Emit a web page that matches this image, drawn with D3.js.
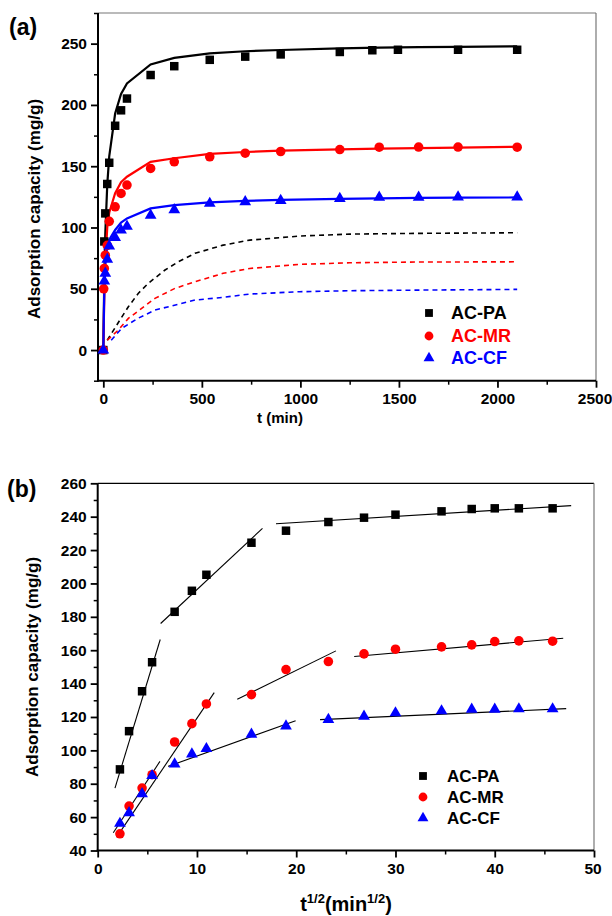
<!DOCTYPE html>
<html><head><meta charset="utf-8">
<script src="https://cdn.jsdelivr.net/npm/d3@7"></script>
<style>
body{margin:0;background:#fff}
text{font-family:Arial,"Liberation Sans",sans-serif;font-weight:bold}
</style>
</head><body>
<svg id="c" width="612" height="916"></svg>
<script>
// ---------- Panel (a): adsorption kinetics ----------
const seriesNames = ["AC-PA","AC-MR","AC-CF"];
const seriesColors = ["#000000","#ff0000","#0000ff"];
const tA_PA = [0,5,10,20,30,60,90,120,240,360,540,720,900,1200,1365,1495,1800,2100];
const tA_MR = [0,2,5,10,20,30,60,90,120,240,360,540,720,900,1200,1400,1600,1800,2100];
const tA = [0,5,10,20,30,60,90,120,240,360,540,720,900,1200,1400,1600,1800,2100];
const qA_PA = [0,88.6,111.5,135.5,152.8,183,195.6,205.2,224.4,231.6,236.8,239.4,241.2,243.2,244.6,245,245,245];
const qA_MR = [0,50,66.6,77.4,85.4,105,116.9,127.8,134.6,148.2,153.6,157.7,160.6,162,163.6,165.5,165.6,165.6,165.5];
const qA_CF = [0,56.2,62.6,74,84.8,91.8,97.8,101,110,114.4,119.6,121,122,123.6,124.6,124.6,124.8,124.8];
// solid fitted curves (a)
const fitA_PA = [0,60,95,135,158,193,209,217.5,233,238.4,242,243.8,244.8,246.2,246.7,247.1,247.4,247.8];
const fitA_MR = [0,45,72,100,112,128,137,141.4,153.6,156.5,160,161.6,162.7,163.7,164.3,164.8,165.2,165.8];
const fitA_CF = [0,50,70,85,90,98,104,107.4,115.6,118.3,120.5,121.7,122.5,123.4,123.8,124.1,124.3,124.5];
// dashed curves (a)
const dashT_PA = [20,84,127,177,228,313,380,465,608,743,996,1250,1588,2100];
const dashQ_PA = [8,24.5,35.3,46.2,54.4,65.3,72,78.9,85.6,89.7,93,94.6,95.2,95.7];
const dashT_MR = [20,76,127,262,363,465,608,743,996,1250,1588,2100];
const dashQ_MR = [8,16.3,25.8,42.2,50.3,55.7,62.6,66.6,69.9,71.2,71.8,72];
const dashT_CF = [40,93,177,262,465,608,743,996,1250,1588,2100];
const dashQ_CF = [8,17.7,26,32.6,40.8,43,45.7,47.6,48.4,48.9,49.5];
const xTicksA = [0,500,1000,1500,2000,2500];
const yTicksA = [0,50,100,150,200,250];

// ---------- Panel (b): intraparticle diffusion ----------
const sqrtT = [2.24,3.16,4.47,5.48,7.75,9.49,10.95,15.49,18.97,23.24,26.83,30,34.64,37.68,40,42.43,45.83];
const qB_PA = [88.6,111.5,135.4,152.8,183,195.6,205.2,224.4,231.6,236.8,239.4,241.2,243.2,244.6,245,245,245];
const qB_MR = [50,66.6,77.4,85.4,105,116,127.8,133.4,148.4,153.2,157.8,160.6,162,163.2,165.2,165.6,165.4];
const qB_CF = [56.2,62.6,74,84.8,91.8,97.8,101,109.6,114.6,118.4,120.4,122.4,123.6,124.6,124.6,124.8,124.8];
// linear segments (x1,q1,x2,q2)
const segB_PA = [[1.74,77.4,6.3,166.4],[6.34,176,16.6,233],[17.96,235.8,47.7,246.6]];
const segB_MR = [[1.91,48,11.74,134.6],[14.06,130.6,24,159.6],[25.84,156.2,46.9,167.2]];
const segB_CF = [[1.57,50.6,6.27,93.4],[7.1,90.4,19.94,117.8],[22.4,118.4,47.2,125]];
const xTicksB = [0,10,20,30,40,50];
const yTicksB = [40,60,80,100,120,140,160,180,200,220,240,260];

const svg = d3.select("#c");
const symTypes = [d3.symbolSquare, d3.symbolCircle, d3.symbolTriangle];
const symSizes = [72, 72, 60];

function drawFrame(x, y, opts){
  const [x0,x1] = x.range(), [y0,y1] = y.range();
  const g = svg.append("g");
  g.append("line").attr("x1",x0).attr("x2",x1).attr("y1",y1).attr("y2",y1)
    .attr("stroke",opts.topColor).attr("stroke-width",1.2);
  g.append("line").attr("x1",x1).attr("x2",x1).attr("y1",y1).attr("y2",y0)
    .attr("stroke","#777").attr("stroke-width",1.2);
  const gxm = g.append("g").attr("transform",`translate(0,${y0})`)
    .call(d3.axisBottom(x).tickValues(opts.xMinor).tickSize(4).tickFormat("").tickSizeOuter(0));
  const gym = g.append("g").attr("transform",`translate(${x0},0)`)
    .call(d3.axisLeft(y).tickValues(opts.yMinor).tickSize(4).tickFormat("").tickSizeOuter(0));
  [gxm,gym].forEach(a=>{a.select(".domain").remove(); a.selectAll("line").attr("stroke-width",1.5);});
  const gx = g.append("g").attr("transform",`translate(0,${y0})`)
    .call(d3.axisBottom(x).tickValues(opts.xTicks).tickFormat(d3.format("d")).tickSize(7).tickPadding(5).tickSizeOuter(0));
  const gy = g.append("g").attr("transform",`translate(${x0},0)`)
    .call(d3.axisLeft(y).tickValues(opts.yTicks).tickFormat(d3.format("d")).tickSize(7).tickPadding(4).tickSizeOuter(0));
  [gx,gy].forEach(a=>{
    a.selectAll(".tick line").attr("stroke-width",1.8);
    a.selectAll("text").attr("font-size",15.5).attr("font-family","Arial, 'Liberation Sans', sans-serif")
      .attr("font-weight","bold").attr("fill","#000");
  });
  // keep the last x label inside the page
  gx.selectAll(".tick text").filter((d,i,n)=>i===n.length-1 && x(d)>590).attr("dx",-1.5);
  gy.select(".domain").attr("stroke-width",2).attr("d",`M0,${y0+1}V${y1}`);
  gx.select(".domain").attr("stroke-width",2).attr("d",`M${x0-1},0H${x1}`);
}

function drawLegend(x0, xt, ys, colored, fs){
  seriesNames.forEach((n,i)=>{
    svg.append("path").attr("d",d3.symbol(symTypes[i], symSizes[i]*0.85)())
      .attr("transform",`translate(${x0},${ys[i]})`).attr("fill",seriesColors[i]);
    svg.append("text").attr("x",xt).attr("y",ys[i]).attr("dy","0.36em")
      .attr("font-size",fs).attr("fill",colored?seriesColors[i]:"#000").text(n);
  });
}

// ===== Panel (a) =====
{
  const x = d3.scaleLinear().domain([-27,2500]).range([98,596]);
  const y = d3.scaleLinear().domain([-25,275]).range([380.7,13]);
  drawFrame(x,y,{xTicks:xTicksA,yTicks:yTicksA,
    xMinor:d3.range(250,2500,500),yMinor:[-25,25,75,125,175,225,275],topColor:"#777"});
  const line = d3.line().x(d=>x(d[0])).y(d=>y(d[1]));
  const dashT=[dashT_PA,dashT_MR,dashT_CF], dashQ=[dashQ_PA,dashQ_MR,dashQ_CF];
  dashT.forEach((ts,i)=>{
    svg.append("path").attr("d",line(ts.map((t,j)=>[t,dashQ[i][j]])))
      .attr("fill","none").attr("stroke",seriesColors[i]).attr("stroke-width",1.6)
      .attr("stroke-dasharray","5,4");
  });
  const fits=[fitA_PA,fitA_MR,fitA_CF], qs=[qA_PA,qA_MR,qA_CF], ts=[tA_PA,tA_MR,tA];
  fits.forEach((f,i)=>{
    svg.append("path").attr("d",line(tA.map((t,j)=>[t,f[j]])))
      .attr("fill","none").attr("stroke",seriesColors[i]).attr("stroke-width",2.2);
  });
  qs.forEach((q,i)=>{
    svg.append("g").selectAll("path").data(q.map((v,j)=>[ts[i][j],v])).join("path")
      .attr("d",d3.symbol(symTypes[i],symSizes[i])())
      .attr("transform",d=>`translate(${x(d[0])},${y(d[1])})`).attr("fill",seriesColors[i]);
  });
  svg.append("text").attr("x",280).attr("y",423).attr("text-anchor","middle").attr("font-size",15).text("t (min)");
  svg.append("text").attr("transform","translate(40,209) rotate(-90)").attr("text-anchor","middle")
    .attr("font-size",17).text("Adsorption capacity (mg/g)");
  svg.append("text").attr("x",9).attr("y",35).attr("font-size",23).text("(a)");
  drawLegend(429,451,[313,336,358],true,18);
}

// ===== Panel (b) =====
{
  const x = d3.scaleLinear().domain([0,50]).range([97.7,594]);
  const y = d3.scaleLinear().domain([40,260]).range([850.5,483.3]);
  drawFrame(x,y,{xTicks:xTicksB,yTicks:yTicksB,
    xMinor:[5,15,25,35,45],yMinor:d3.range(50,260,20),topColor:"#000"});
  const segs=[segB_PA,segB_MR,segB_CF];
  segs.forEach(ss=>ss.forEach(s=>{
    svg.append("line").attr("x1",x(s[0])).attr("y1",y(s[1])).attr("x2",x(s[2])).attr("y2",y(s[3]))
      .attr("stroke","#000").attr("stroke-width",1.1);
  }));
  const qs=[qB_PA,qB_MR,qB_CF];
  qs.forEach((q,i)=>{
    svg.append("g").selectAll("path").data(q.map((v,j)=>[sqrtT[j],v])).join("path")
      .attr("d",d3.symbol(symTypes[i],symSizes[i])())
      .attr("transform",d=>`translate(${x(d[0])},${y(d[1])})`).attr("fill",seriesColors[i]);
  });
  const t = svg.append("text").attr("x",346).attr("y",911).attr("text-anchor","middle").attr("font-size",20);
  t.append("tspan").text("t");
  t.append("tspan").attr("font-size",13).attr("dy",-8).text("1/2");
  t.append("tspan").attr("dy",8).text("(min");
  t.append("tspan").attr("font-size",13).attr("dy",-8).text("1/2");
  t.append("tspan").attr("dy",8).text(")");
  svg.append("text").attr("transform","translate(38,667) rotate(-90)").attr("text-anchor","middle")
    .attr("font-size",17).text("Adsorption capacity (mg/g)");
  svg.append("text").attr("x",7).attr("y",497).attr("font-size",23).text("(b)");
  drawLegend(423,447,[776,797,818],false,17);
}
</script>
</body></html>
